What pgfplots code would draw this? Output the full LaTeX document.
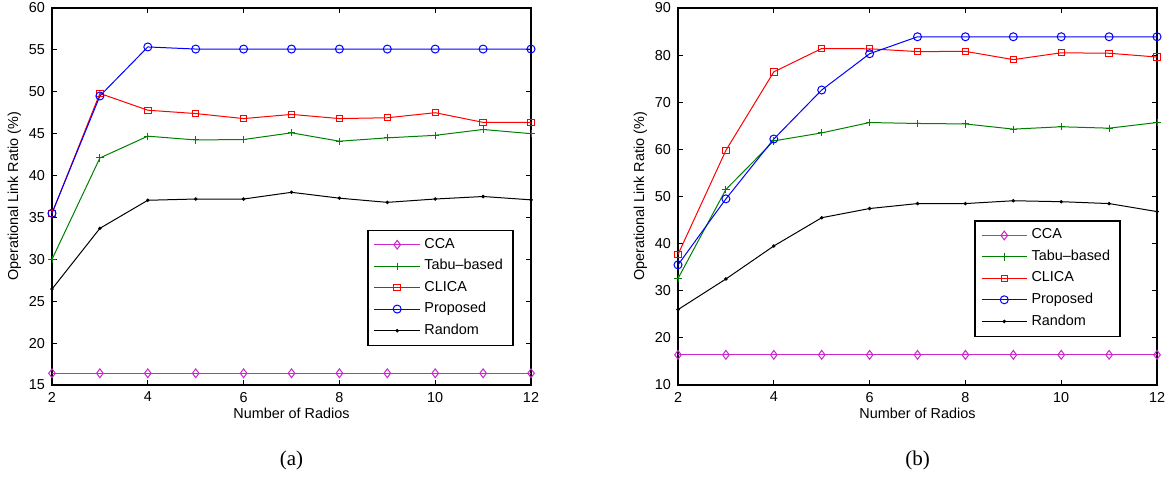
\documentclass[border=0pt]{standalone}
\usepackage{fontspec}
\setmainfont{Liberation Sans}
\newfontfamily\capfont{Liberation Serif}
\usepackage{pgfplots}
\pgfplotsset{compat=1.18}

\definecolor{ccam}{rgb}{0.8,0.15,0.8}
\definecolor{tabug}{rgb}{0,0.5,0}

\pgfplotsset{
  radios/.style={
    width=239.5pt, height=188.5pt, scale only axis,
    anchor=south west,
    xmin=2, xmax=12, xtick={2,4,...,12},
    tick align=inside, major tick length=2.5pt,
    axis line style={line width=0.6pt},
    every tick/.style={black,line width=0.4pt},
    tick label style={font=\fontsize{7.2}{8.6}\selectfont},
    label style={font=\fontsize{7.2}{8.6}\selectfont},
    /pgf/number format/assume math mode=true,
    xlabel={Number of Radios},
    ylabel={Operational Link Ratio (\%)},
    xlabel style={yshift=4pt},
    ylabel style={yshift=-3pt},
    clip=false,
    legend cell align=left,
    legend style={font=\fontsize{7.2}{8.6}\selectfont, draw=black,
      line width=0.6pt, anchor=south east, row sep=0.1pt,
      inner xsep=3pt, inner ysep=2pt},
    legend image code/.code={%
      \draw[mark repeat=2,mark phase=2]
        plot coordinates {(0cm,0cm) (0.4cm,0cm) (0.8cm,0cm)};},
    every axis plot/.append style={line width=0.5pt},
  },
  cca/.style={ccam, mark=diamond, mark size=2.2pt},
  tabu/.style={tabug, mark=+, mark size=1.8pt},
  clica/.style={red, mark=square, mark size=1.6pt},
  prop/.style={blue, mark=o, mark size=2pt},
  rand/.style={black, mark=*, mark size=0.6pt},
}

\begin{document}
\begin{tikzpicture}
\useasboundingbox (0,0) rectangle (585pt,238pt);

% (a)
\begin{axis}[radios, at={(26pt,45.5pt)},
  ymin=15, ymax=60, ytick={15,20,...,60},
  legend style={at={(0.9635,0.1034)}}]
  \addplot[cca] coordinates {(2,16.4) (3,16.4) (4,16.4) (5,16.4) (6,16.4) (7,16.4) (8,16.4) (9,16.4) (10,16.4) (11,16.4) (12,16.4)};
  \addplot[tabu] coordinates {(2,30.0) (3,42.1) (4,44.7) (5,44.25) (6,44.3) (7,45.1) (8,44.1) (9,44.5) (10,44.8) (11,45.5) (12,45.0)};
  \addplot[clica] coordinates {(2,35.5) (3,49.8) (4,47.8) (5,47.4) (6,46.8) (7,47.3) (8,46.8) (9,46.9) (10,47.5) (11,46.35) (12,46.35)};
  \addplot[prop] coordinates {(2,35.5) (3,49.5) (4,55.35) (5,55.1) (6,55.1) (7,55.1) (8,55.1) (9,55.1) (10,55.1) (11,55.1) (12,55.1)};
  \addplot[rand] coordinates {(2,26.45) (3,33.7) (4,37.05) (5,37.2) (6,37.2) (7,38.0) (8,37.3) (9,36.8) (10,37.2) (11,37.5) (12,37.1)};
  \legend{CCA, Tabu--based, CLICA, Proposed, Random}
\end{axis}

% (b)
\begin{axis}[radios, at={(339pt,45.5pt)},
  ymin=10, ymax=90, ytick={10,20,...,90},
  legend style={at={(0.924,0.128)}}]
  \addplot[cca] coordinates {(2,16.4) (3,16.4) (4,16.4) (5,16.4) (6,16.4) (7,16.4) (8,16.4) (9,16.4) (10,16.4) (11,16.4) (12,16.4)};
  \addplot[tabu] coordinates {(2,32.6) (3,51.5) (4,61.8) (5,63.5) (6,65.7) (7,65.5) (8,65.4) (9,64.3) (10,64.8) (11,64.5) (12,65.7)};
  \addplot[clica] coordinates {(2,37.7) (3,59.8) (4,76.45) (5,81.4) (6,81.35) (7,80.75) (8,80.8) (9,79.05) (10,80.5) (11,80.4) (12,79.6)};
  \addplot[prop] coordinates {(2,35.5) (3,49.5) (4,62.2) (5,72.6) (6,80.3) (7,83.9) (8,83.9) (9,83.9) (10,83.9) (11,83.9) (12,83.9)};
  \addplot[rand] coordinates {(2,26.0) (3,32.5) (4,39.5) (5,45.5) (6,47.45) (7,48.5) (8,48.5) (9,49.1) (10,48.9) (11,48.5) (12,46.8)};
  \legend{CCA, Tabu--based, CLICA, Proposed, Random}
\end{axis}

\node[font=\capfont\fontsize{10.5}{12}\selectfont] at (145.75pt,8pt) {(a)};
\node[font=\capfont\fontsize{10.5}{12}\selectfont] at (458.75pt,8pt) {(b)};
\end{tikzpicture}
\end{document}
